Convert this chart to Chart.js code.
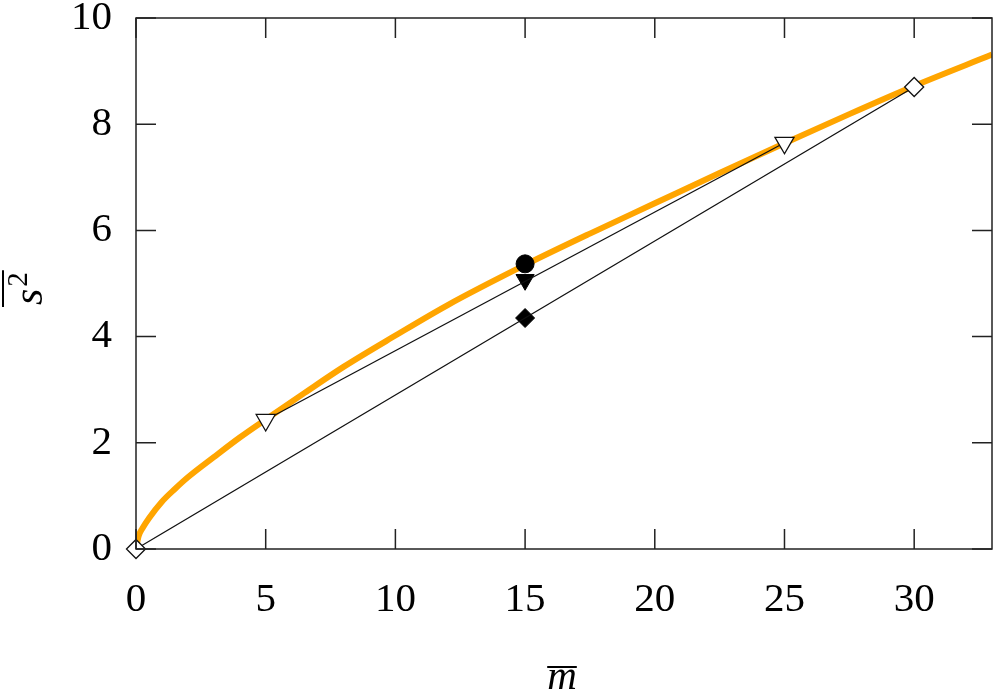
<!DOCTYPE html>
<html>
<head>
<meta charset="utf-8">
<script src="https://cdn.jsdelivr.net/npm/chart.js@4/dist/chart.umd.min.js"></script>
<style>
  html, body { margin: 0; padding: 0; background: #fff; }
  #wrap { width: 997px; height: 692px; }
</style>
</head>
<body>
<div id="wrap"><canvas id="chart"></canvas></div>
<script>
// orange curve
const curveM = [0, 0.1, 0.25, 0.5, 1, 1.5, 2, 3, 4, 5, 6.5, 8, 10, 12, 15, 17.5, 20, 22.5, 25, 27.5, 30, 33];
const curveS = [0, 0.24, 0.39, 0.58, 0.89, 1.13, 1.35, 1.73, 2.1, 2.44, 2.94, 3.43, 4.02, 4.59, 5.35, 5.94, 6.51, 7.08, 7.64, 8.19, 8.72, 9.31];

// chord between the open triangles
const triM = [5, 25];
const triS = [2.43, 7.65];
// chord between the open diamonds
const diaM = [0, 30];
const diaS = [0, 8.7];

// filled markers at m = 15
const midTri = [15, 5.07];
const midDia = [15, 4.35];
const midDot = [15, 5.37];

const xTicks = [0, 5, 10, 15, 20, 25, 30];
const yTicks = [0, 2, 4, 6, 8, 10];

const pts = (xs, ys) => xs.map((x, i) => ({x: x, y: ys[i]}));
const serif = '"Liberation Serif", "DejaVu Serif", serif';

const frame = {
    id: 'frame',
    afterDatasetsDraw(chart) {
        const {ctx, chartArea: a, scales: {x, y}} = chart;
        const len = 20;
        ctx.save();
        ctx.strokeStyle = '#222';
        ctx.lineWidth = 1.5;
        ctx.beginPath();
        xTicks.forEach(v => {
            const px = x.getPixelForValue(v);
            ctx.moveTo(px, a.bottom); ctx.lineTo(px, a.bottom - len);
            ctx.moveTo(px, a.top); ctx.lineTo(px, a.top + len);
        });
        yTicks.forEach(v => {
            const py = y.getPixelForValue(v);
            ctx.moveTo(a.left, py); ctx.lineTo(a.left + len, py);
            ctx.moveTo(a.right, py); ctx.lineTo(a.right - len, py);
        });
        ctx.stroke();
        ctx.strokeRect(a.left, a.top, a.right - a.left, a.bottom - a.top);

        // axis titles with overlines
        ctx.fillStyle = '#000';
        ctx.strokeStyle = '#000';
        ctx.lineWidth = 2;
        ctx.font = 'italic 41px ' + serif;
        ctx.textAlign = 'center';
        ctx.textBaseline = 'alphabetic';
        const cx = 562;
        ctx.fillText('m', cx, 689);
        const w = ctx.measureText('m').width;
        ctx.beginPath();
        ctx.moveTo(cx - w / 2, 667); ctx.lineTo(cx + w / 2, 667);
        ctx.stroke();

        ctx.translate(42, 305);
        ctx.rotate(-Math.PI / 2);
        ctx.textAlign = 'left';
        ctx.font = 'italic 42px ' + serif;
        ctx.fillText('s', 0, 0);
        const sw = ctx.measureText('s').width;
        ctx.font = '29px ' + serif;
        ctx.fillText('2', sw + 2, -15);
        const tw = ctx.measureText('2').width;
        ctx.beginPath();
        ctx.moveTo(-2, -39); ctx.lineTo(sw + tw + 4, -39);
        ctx.stroke();
        ctx.restore();
    }
};

new Chart(document.getElementById('chart'), {
    type: 'scatter',
    data: {
        datasets: [
            {
                data: pts(triM, triS), showLine: true,
                borderColor: '#111', borderWidth: 1.3,
                pointStyle: 'triangle', rotation: 180, pointRadius: 11,
                pointBackgroundColor: '#fff', pointBorderColor: '#111', pointBorderWidth: 1.3
            },
            {
                data: pts(diaM, diaS), showLine: true, clip: false,
                borderColor: '#111', borderWidth: 1.3,
                pointStyle: 'rectRot', pointRadius: 9.5,
                pointBackgroundColor: '#fff', pointBorderColor: '#111', pointBorderWidth: 1.3
            },
            {
                data: [{x: midTri[0], y: midTri[1]}],
                pointStyle: 'triangle', rotation: 180, pointRadius: 10.5,
                pointBackgroundColor: '#000', pointBorderColor: '#000'
            },
            {
                data: [{x: midDia[0], y: midDia[1]}],
                pointStyle: 'rectRot', pointRadius: 9.5,
                pointBackgroundColor: '#000', pointBorderColor: '#000'
            },
            {
                data: [{x: midDot[0], y: midDot[1]}],
                pointStyle: 'circle', pointRadius: 9,
                pointBackgroundColor: '#000', pointBorderColor: '#000'
            },
            {
                data: pts(curveM, curveS), showLine: true,
                borderColor: '#ffa500', borderWidth: 6,
                cubicInterpolationMode: 'monotone', pointRadius: 0
            }
        ]
    },
    options: {
        responsive: true,
        maintainAspectRatio: false,
        animation: false,
        layout: { autoPadding: false, padding: { top: 18, right: 5, bottom: 0, left: 0 } },
        plugins: { legend: { display: false }, tooltip: { enabled: false } },
        scales: {
            x: {
                type: 'linear', min: 0, max: 33,
                afterBuildTicks: s => { s.ticks = xTicks.map(v => ({value: v})); },
                afterFit: s => { s.height = 143; s.paddingLeft = 0; s.paddingRight = 0; },
                grid: { display: false, drawTicks: false },
                border: { display: false },
                ticks: { color: '#000', padding: 27, maxRotation: 0, font: { family: serif, size: 41 } }
            },
            y: {
                type: 'linear', min: 0, max: 10,
                afterBuildTicks: s => { s.ticks = yTicks.map(v => ({value: v})); },
                afterFit: s => { s.width = 136; s.paddingTop = 0; s.paddingBottom = 0; },
                grid: { display: false, drawTicks: false },
                border: { display: false },
                ticks: { color: '#000', padding: 24, font: { family: serif, size: 41 } }
            }
        }
    },
    plugins: [frame]
});
</script>
</body>
</html>
